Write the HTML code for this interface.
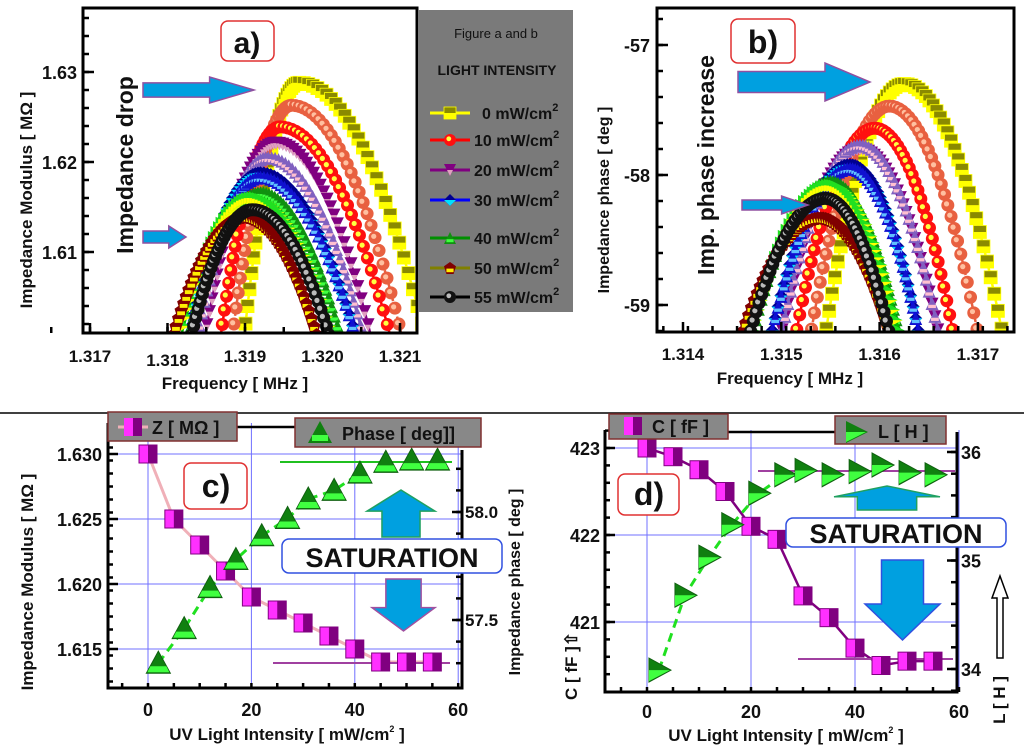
<!DOCTYPE html>
<html><head><meta charset="utf-8"><style>
body{margin:0;background:#fff}
svg{display:block;font-family:"Liberation Sans",sans-serif;font-weight:bold}
</style></head><body>
<svg id="fig" width="1024" height="746" viewBox="0 0 1024 746">
<defs>
<clipPath id="clipA"><rect x="83" y="8" width="334" height="325"/></clipPath>
<clipPath id="clipB"><rect x="657" y="8" width="357" height="324"/></clipPath>
</defs>
<rect width="1024" height="746" fill="#fff"/>
<line x1="0" y1="413" x2="1024" y2="413" stroke="#000" stroke-width="1.5"/>
<g id="gA"></g>
<g id="gB"></g>
<g id="gC"></g>
<g id="gD"></g>
</svg>
<script>
// ---- Panel a/b data ----
const seriesNames=["0","salmon","10","20","20b","30","30b","40","40b","50","55"];
const aPeakF=[1.3197,1.3196,1.31945,1.3194,1.3193,1.3192,1.3192,1.3192,1.3191,1.3190,1.3191];
const aPeakZ=[1.6288,1.6263,1.6239,1.6221,1.6205,1.6188,1.6183,1.6166,1.6160,1.6139,1.6147];
const aLeftHW=[0.0007,0.00075,0.00075,0.0009,0.0009,0.0009,0.0009,0.0009,0.0009,0.0009,0.00077];
const aRightHW=[0.0016,0.0014,0.0014,0.0012,0.0012,0.0012,0.0012,0.0010,0.0010,0.0009,0.00096];
const bPeakF=[1.31625,1.3161,1.31595,1.3158,1.3158,1.3157,1.3157,1.3155,1.3155,1.3154,1.31545];
const bPeakP=[-57.30,-57.47,-57.64,-57.80,-57.77,-57.92,-57.95,-58.05,-58.08,-58.33,-58.18];
const bLeftHW=[0.0008,0.0008,0.0008,0.0008,0.0008,0.0008,0.0008,0.0008,0.0008,0.0008,0.00077];
const bRightHW=[0.0010,0.0009,0.0008,0.0008,0.0008,0.0007,0.0007,0.0007,0.0007,0.0007,0.00065];
// ---- Panel c data ----
const cIntensity=[0,5,10,15,20,25,30,35,40,45,50,55];
const cZ=[1.630,1.625,1.623,1.621,1.619,1.618,1.617,1.616,1.615,1.614,1.614,1.614];
const cPhaseX=[2,7,12,17,22,27,31,36,41,46,51,56];
const cPhase=[57.30,57.46,57.65,57.78,57.89,57.97,58.06,58.10,58.18,58.23,58.24,58.24];
const cYTicks=["1.630","1.625","1.620","1.615"];
const cYTickVals=[1.630,1.625,1.620,1.615];
const cRTickVals=[58.0,57.5];
const cXTicks=[0,20,40,60];
// ---- Panel d data ----
const dIntensity=[0,5,10,15,20,25,30,35,40,45,50,55];
const dC=[423.0,422.9,422.75,422.5,422.1,421.95,421.3,421.05,420.7,420.5,420.55,420.55];
const dLX=[2.3,7.3,11.9,16.3,21.5,26.5,30.4,35.6,40.8,45.2,50.4,55.4];
const dL=[33.99,34.68,35.03,35.33,35.62,35.79,35.83,35.79,35.82,35.88,35.81,35.79];
const dYTickVals=[423,422,421];
const dRTickVals=[36,35,34];
const dXTicks=[0,20,40,60];
const legendLabels=["0 mW/cm","10 mW/cm","20 mW/cm","30 mW/cm","40 mW/cm","50 mW/cm","55 mW/cm"];
const aYTickVals=[1.63,1.62,1.61];
const aXTickVals=[1.317,1.318,1.319,1.320,1.321];
const bYTickVals=[-57,-58,-59];
const bXTickVals=[1.314,1.315,1.316,1.317];

const NS="http://www.w3.org/2000/svg";
function el(tag,attrs,parent,txt){const e=document.createElementNS(NS,tag);for(const k in attrs)e.setAttribute(k,attrs[k]);if(txt!==undefined)e.textContent=txt;parent.appendChild(e);return e;}
const xa=f=>90+(f-1.317)*77500, ya=z=>72+(1.63-z)*9000;
const xb=f=>683+(f-1.314)*98300, yb=p=>45+(-57-p)*130;
const xc=v=>148+v*5.17, yc=z=>454+(1.630-z)*13000, ycr=p=>512+(58-p)*216;
const xd=v=>647+v*5.2, yd=c=>448+(423-c)*87, ydr=L=>452+(36-L)*108.5;

const styles=[
 {s:"sq",f:"#8a8a00",f2:"#ffff00",line:"#ffff00"},
 {s:"ci",f:"#e86040",f2:"#ffc0a0",line:"#e86040"},
 {s:"ci",f:"#ff1010",f2:"#ffff40",line:"#ff0000"},
 {s:"td",f:"#800080",f2:"#e0a0c0",line:"#800080"},
 {s:"tu",f:"#8060c0",f2:"#ffc0d0",line:"#8060c0"},
 {s:"di",f:"#000090",f2:"#00e0ff",line:"#0000ff"},
 {s:"tu",f:"#1010d0",f2:"#60c0ff",line:"#0000ff"},
 {s:"tu",f:"#109010",f2:"#40ff40",line:"#009000"},
 {s:"tr",f:"#20e020",f2:"#ffff00",line:"#00c000"},
 {s:"pe",f:"#800000",f2:"#ffee00",line:"#808000"},
 {s:"ci",f:"#111",f2:"#bbb",line:"#000"}
];
function marker(g,st,x,y,r){
 let e;
 if(st.s==="sq"){e=el("rect",{x:x-r,y:y-r,width:2*r,height:2*r,fill:st.f,stroke:st.f2,"stroke-width":0.8},g);el("rect",{x:x-r,y:y,width:2*r,height:r,fill:st.f2},g);}
 else if(st.s==="ci"){e=el("circle",{cx:x,cy:y,r:r,fill:st.f},g);el("circle",{cx:x-r*0.2,cy:y-r*0.2,r:r*0.4,fill:st.f2},g);}
 else if(st.s==="td"){e=el("polygon",{points:`${x-r},${y-r} ${x+r},${y-r} ${x},${y+r}`,fill:st.f},g);el("polygon",{points:`${x-r/2},${y} ${x+r/2},${y} ${x},${y+r}`,fill:st.f2},g);}
 else if(st.s==="tu"){e=el("polygon",{points:`${x-r},${y+r} ${x+r},${y+r} ${x},${y-r}`,fill:st.f},g);el("rect",{x:x-r*0.6,y:y+r*0.2,width:r*1.2,height:r*0.5,fill:st.f2},g);}
 else if(st.s==="tr"){e=el("polygon",{points:`${x-r},${y-r} ${x-r},${y+r} ${x+r},${y}`,fill:st.f},g);el("polygon",{points:`${x-r},${y} ${x-r},${y+r} ${x+r},${y}`,fill:st.f2},g);}
 else if(st.s==="di"){e=el("polygon",{points:`${x},${y-r} ${x+r},${y} ${x},${y+r} ${x-r},${y}`,fill:st.f},g);el("polygon",{points:`${x-r},${y} ${x+r},${y} ${x},${y+r}`,fill:st.f2},g);}
 else {e=el("polygon",{points:`${x},${y-r} ${x+r},${y-r*0.3} ${x+r*0.6},${y+r} ${x-r*0.6},${y+r} ${x-r},${y-r*0.3}`,fill:st.f},g);el("rect",{x:x-r*0.6,y:y+r*0.1,width:r*1.2,height:r*0.6,fill:st.f2},g);}
 return e;
}
function drawPeaks(g,clip,xf,yf,peakF,peakV,lhw,rhw,bottomV,idPrefix){
 const cg=el("g",{"clip-path":`url(#${clip})`},g);
 
 
 for(let i=0;i<peakF.length;i++){
  const sg=el("g",{},cg);
  
  
  const st=styles[i];const drop=peakV[i]-bottomV;
  const f0=peakF[i];const pts=[];
  const n=60;
  for(let k=0;k<=n;k++){
   const t=-1.1+2.2*k/n;const hw=t<0?lhw[i]:rhw[i];
   const f=f0+t*hw;const v=peakV[i]-drop*t*t;pts.push([xf(f),yf(v)]);
  }
  el("polyline",{points:pts.map(p=>p.join(",")).join(" "),fill:"none",stroke:st.line,"stroke-width":2.5,"stroke-dasharray":i%2?"8,4":"none"},sg);
  for(let k=0;k<pts.length;k+=1){
   const m=marker(sg,st,pts[k][0],pts[k][1],6.5);
   
   
  }
 }
}
function txt(g,x,y,s,size,anchor,name,extra){const t=el("text",Object.assign({x:x,y:y,"font-size":size,"text-anchor":anchor||"start",fill:"#111"},extra||{}),g,s);return t;}
function rtxt(g,x,y,s,size,name){return txt(g,0,0,s,size,"middle",name,{transform:`translate(${x},${y}) rotate(-90)`});}
function box(g,x,y,w,h,stroke,name,fill){const r=el("rect",{x:x,y:y,width:w,height:h,rx:7,fill:fill||"#fff",stroke:stroke,"stroke-width":1.5},g);return r;}
function harrow(g,x1,x2,y,h,name){
 const hh=h/2,hd=Math.min(45,(x2-x1)*0.4);
 const p=el("polygon",{points:`${x1},${y-hh*0.55} ${x2-hd},${y-hh*0.55} ${x2-hd},${y-hh} ${x2},${y} ${x2-hd},${y+hh} ${x2-hd},${y+hh*0.55} ${x1},${y+hh*0.55}`,fill:"#00a0e0",stroke:"#9050a0","stroke-width":1.5},g);
 
}
function varrow(g,x1,x2,y1,y2,up,stroke,name){
 const cx=(x1+x2)/2,w=x2-x1,sw=w*0.28,hd=(y2-y1)*0.45;
 let pts;
 if(up)pts=`${cx},${y1} ${x2},${y1+hd} ${cx+sw},${y1+hd} ${cx+sw},${y2} ${cx-sw},${y2} ${cx-sw},${y1+hd} ${x1},${y1+hd}`;
 else pts=`${cx-sw},${y1} ${cx+sw},${y1} ${cx+sw},${y2-hd} ${x2},${y2-hd} ${cx},${y2} ${x1},${y2-hd} ${cx-sw},${y2-hd}`;
 const p=el("polygon",{points:pts,fill:"#00a0e0",stroke:stroke,"stroke-width":1.5},g);
 
}
function tickY(g,x,y,len,name){const l=el("line",{x1:x,y1:y,x2:x+len,y2:y,stroke:"#000","stroke-width":2.5},g);}
function tickX(g,x,y,len,name){const l=el("line",{x1:x,y1:y,x2:x,y2:y-len,stroke:"#000","stroke-width":2.5},g);}

// ===== Panel a =====
const gA=document.getElementById("gA");
drawPeaks(gA,"clipA",xa,ya,aPeakF,aPeakZ,aLeftHW,aRightHW,1.6015,"a");
{const f=el("rect",{x:83,y:8,width:334,height:325,fill:"none",stroke:"#000","stroke-width":3},gA);}
for(let v=1.602;v<1.637;v+=0.002)tickY(gA,83,ya(v),6,"y-tick-a");
aYTickVals.forEach(v=>{tickY(gA,83,ya(v),11,"y-tick-a");txt(gA,77,ya(v)+7,v.toFixed(2),18,"end","y-tick-label-a");});
aXTickVals.forEach(v=>{tickX(gA,xa(v),333,10,"x-tick-a");txt(gA,xa(v),362+(v===1.318?4:0),v.toFixed(3),17,"middle","x-tick-label-a");});
for(let v=1.3165;v<1.3213;v+=0.0005)tickX(gA,xa(v),333,6,"x-minor-tick-a");
txt(gA,235,389,"Frequency [ MHz ]",17,"middle","x-axis-title-a");
rtxt(gA,32,200,"Impedance Modulus [ MΩ ]",17,"y-axis-title-a");
rtxt(gA,133,165,"Impedance drop",23,"impedance-drop-label");
box(gA,221,21,53,40,"#e03030","panel-label-a-box");txt(gA,247,53,"a)",30,"middle","panel-label-a");
harrow(gA,143,254,90,26,"big-arrow-a");harrow(gA,143,186,237,22,"small-arrow-a");
{const lg=el("g",{},gA);
 const r=el("rect",{x:418,y:10,width:155,height:302,fill:"#7a7a7a"},lg);
 txt(lg,496,38,"Figure a and b",13,"middle","legend-title",{"font-weight":"normal"});
 txt(lg,497,75,"LIGHT INTENSITY",14,"middle","legend-subtitle");
 const rows=[113,140,170,200,238,268,297];const si=[0,2,3,5,7,9,10];
 rows.forEach((y,j)=>{const st=styles[si[j]];
  const e=el("g",{},lg);
  el("line",{x1:430,y1:y,x2:470,y2:y,stroke:st.line,"stroke-width":3},e);marker(e,st,450,y,6);
  const t=txt(e,j===0?482:474,y+6,legendLabels[j],16,"start","legend-label");
  el("tspan",{dy:-8,"font-size":11},t,"2");});
}

// ===== Panel b =====
const gB=document.getElementById("gB");
drawPeaks(gB,"clipB",xb,yb,bPeakF,bPeakP,bLeftHW,bRightHW,-59.22,"b");
{const f=el("rect",{x:657,y:8,width:357,height:324,fill:"none",stroke:"#000","stroke-width":3},gB);}
for(let v=-59.2;v<=-56.7;v+=0.2)tickY(gB,657,yb(v),6,"y-minor-tick-b");
bYTickVals.forEach(v=>{tickY(gB,657,yb(v),11,"y-tick-b");txt(gB,650,yb(v)+7,String(v),18,"end","y-tick-label-b");});
bXTickVals.forEach(v=>{tickX(gB,xb(v),332,10,"x-tick-b");txt(gB,xb(v),360,v.toFixed(3),17,"middle","x-tick-label-b");});
for(let v=1.3138;v<1.3174;v+=0.00025)tickX(gB,xb(v),332,6,"x-minor-tick-b");
txt(gB,790,384,"Frequency [ MHz ]",17,"middle","x-axis-title-b");
rtxt(gB,609,200,"Impedance phase [ deg ]",16,"y-axis-title-b");
rtxt(gB,714,165,"Imp. phase increase",23,"phase-increase-label");
box(gB,731,19,64,44,"#e03030","panel-label-b-box");txt(gB,763,53,"b)",32,"middle","panel-label-b");
harrow(gB,738,870,82,38,"big-arrow-b");harrow(gB,742,808,205,18,"small-arrow-b");

// ===== Panel c =====
const gC=document.getElementById("gC");
cXTicks.forEach(v=>{const l=el("line",{x1:xc(v),y1:423,x2:xc(v),y2:688,stroke:"#7070ff","stroke-width":1},gC);});
cYTickVals.forEach(v=>{const l=el("line",{x1:108,y1:yc(v),x2:462,y2:yc(v),stroke:"#7070ff","stroke-width":1},gC);});
{const f=el("path",{d:"M108,423 V688 H462 V450",fill:"none",stroke:"#000","stroke-width":3},gC);}
for(let v=1.6125;v<1.632;v+=0.001)tickY(gC,108,yc(v),5,"y-minor-tick-c");
for(let v=-5;v<=60;v+=5)tickX(gC,xc(v),688,5,"x-minor-tick-c");
for(let v=57.3;v<=58.3;v+=0.1)tickY(gC,462,ycr(v),-6,"right-minor-tick-c");
cYTickVals.forEach((v,i)=>{tickY(gC,108,yc(v),10,"y-tick-c");txt(gC,102,yc(v)+7,cYTicks[i],18,"end","y-tick-label-c");});
cRTickVals.forEach(v=>{tickY(gC,462,ycr(v),-10,"right-tick-c");txt(gC,465,ycr(v)+6,v.toFixed(1),17,"start","right-tick-label-c");});
cXTicks.forEach(v=>{txt(gC,xc(v),716,String(v),18,"middle","x-tick-label-c");});
{const t=txt(gC,287,740,"UV Light Intensity [ mW/cm",17,"middle","x-axis-title-c");el("tspan",{dy:-8,"font-size":9},t,"2");el("tspan",{dy:8},t," ]");}
rtxt(gC,33,582,"Impedance Modulus [ MΩ ]",17,"y-axis-title-c");
rtxt(gC,520,582,"Impedance phase [ deg ]",16,"right-axis-title-c");
{const pts=cIntensity.map((v,i)=>xc(v)+","+yc(cZ[i])).join(" ");const l=el("polyline",{points:pts,fill:"none",stroke:"#f0b0b8","stroke-width":3},gC);}
{const pts=cPhaseX.slice(0,9).map((v,i)=>xc(v)+","+ycr(cPhase[i])).join(" ");const l=el("polyline",{points:pts,fill:"none",stroke:"#20e020","stroke-width":3,"stroke-dasharray":"9,6"},gC);}
{const l=el("line",{x1:280,y1:462,x2:452,y2:462,stroke:"#20c020","stroke-width":2},gC);}
{const l=el("line",{x1:273,y1:663,x2:450,y2:663,stroke:"#a040a0","stroke-width":2},gC);}
cIntensity.forEach((v,i)=>{const x=xc(v),y=yc(cZ[i]);
 const a=el("rect",{x:x-9,y:y-9,width:18,height:18,fill:"#ff30ff",stroke:"#800080","stroke-width":1},gC);
 el("rect",{x:x,y:y-9,width:9,height:18,fill:"#800080"},gC);});
cPhaseX.forEach((v,i)=>{const x=xc(v),y=ycr(cPhase[i]);
 const a=el("polygon",{points:`${x-12},${y+10} ${x+12},${y+10} ${x},${y-12}`,fill:"#108010",stroke:"#106010"},gC);
 el("polygon",{points:`${x-8},${y+3} ${x+8},${y+3} ${x+11},${y+9} ${x-11},${y+9}`,fill:"#40ff40"},gC);});
{const l=el("line",{x1:237,y1:427,x2:297,y2:427,stroke:"#000","stroke-width":2.5},gC);}
{const g=el("g",{},gC);
 el("rect",{x:108,y:412,width:129,height:29,fill:"#888",stroke:"#803030","stroke-width":1.5},g);
 el("line",{x1:118,y1:427,x2:148,y2:427,stroke:"#f0b0b8","stroke-width":3},g);
 el("rect",{x:124,y:418,width:18,height:18,fill:"#ff30ff"},g);el("rect",{x:133,y:418,width:9,height:18,fill:"#800080"},g);
 txt(g,152,434,"Z [ MΩ ]",18,"start","legend-z-label");}
{const g=el("g",{},gC);
 el("rect",{x:295,y:418,width:186,height:29,fill:"#888",stroke:"#803030","stroke-width":1.5},g);
 el("polygon",{points:"308,443 332,443 320,421",fill:"#108010"},g);el("rect",{x:312,y:435,width:16,height:6,fill:"#40ff40"},g);
 txt(g,342,440,"Phase [ deg]]",18,"start","legend-phase-label");}
box(gC,184,463,63,46,"#e03030","panel-label-c-box");txt(gC,216,497,"c)",32,"middle","panel-label-c");
varrow(gC,367,435,490,537,true,"#20a060","up-arrow-c");
varrow(gC,372,435,579,631,false,"#a050a0","down-arrow-c");
box(gC,282,539,220,34,"#3050e0","saturation-box-c");txt(gC,392,567,"SATURATION",27,"middle","saturation-label-c");

// ===== Panel d =====
const gD=document.getElementById("gD");
dXTicks.forEach(v=>{const l=el("line",{x1:xd(v),y1:430,x2:xd(v),y2:692,stroke:"#7070ff","stroke-width":1},gD);});
dYTickVals.forEach(v=>{const l=el("line",{x1:605,y1:yd(v),x2:957,y2:yd(v),stroke:"#7070ff","stroke-width":1},gD);});
{const f=el("path",{d:"M605,430 V692 H957 V432",fill:"none",stroke:"#000","stroke-width":3},gD);}
for(let v=420.4;v<423.2;v+=0.2)tickY(gD,605,yd(v),5,"y-minor-tick-d");
for(let v=-5;v<=60;v+=5)tickX(gD,xd(v),692,5,"x-minor-tick-d");
for(let v=33.8;v<=36.2;v+=0.2)tickY(gD,957,ydr(v),-6,"right-minor-tick-d");
dYTickVals.forEach(v=>{tickY(gD,605,yd(v),10,"y-tick-d");txt(gD,600,yd(v)+7,String(v),18,"end","y-tick-label-d");});
dRTickVals.forEach(v=>{tickY(gD,957,ydr(v),-10,"right-tick-d");txt(gD,961,ydr(v)+7,String(v),18,"start","right-tick-label-d");});
dXTicks.forEach(v=>{txt(gD,xd(v),718,String(v),18,"middle","x-tick-label-d");});
{const t=txt(gD,786,741,"UV Light Intensity [ mW/cm",17,"middle","x-axis-title-d");el("tspan",{dy:-8,"font-size":9},t,"2");el("tspan",{dy:8},t," ]");}
rtxt(gD,577,666,"C [ fF ]⇧",17,"y-axis-title-d");
rtxt(gD,1005,700,"L [ H ]",17,"right-axis-title-d");
{const p=el("polygon",{points:"1000,576 1008,598 1003,598 1003,658 997,658 997,598 992,598",fill:"#fff",stroke:"#000","stroke-width":1.5},gD);}
{const pts=dIntensity.map((v,i)=>xd(v)+","+yd(dC[i])).join(" ");const l=el("polyline",{points:pts,fill:"none",stroke:"#800080","stroke-width":2.5},gD);}
{const pts=dLX.slice(0,6).map((v,i)=>xd(v)+","+ydr(dL[i])).join(" ");const l=el("polyline",{points:pts,fill:"none",stroke:"#20e020","stroke-width":3,"stroke-dasharray":"9,6"},gD);}
{const l=el("line",{x1:758,y1:471,x2:955,y2:471,stroke:"#a040a0","stroke-width":2},gD);}
{const l=el("line",{x1:798,y1:659,x2:953,y2:659,stroke:"#a040a0","stroke-width":2},gD);}
dIntensity.forEach((v,i)=>{const x=xd(v),y=yd(dC[i]);
 const a=el("rect",{x:x-9,y:y-9,width:18,height:18,fill:"#ff30ff",stroke:"#800080","stroke-width":1},gD);
 el("rect",{x:x,y:y-9,width:9,height:18,fill:"#800080"},gD);});
dLX.forEach((v,i)=>{const x=xd(v),y=ydr(dL[i]);
 const a=el("polygon",{points:`${x-10},${y-12} ${x-10},${y+12} ${x+12},${y}`,fill:"#108010",stroke:"#106010"},gD);
 el("polygon",{points:`${x-10},${y} ${x-10},${y+11} ${x+11},${y}`,fill:"#40ff40"},gD);});
{const l=el("line",{x1:728,y1:432,x2:836,y2:432,stroke:"#000","stroke-width":2.5},gD);}
{const g=el("g",{},gD);
 el("rect",{x:609,y:414,width:119,height:25,fill:"#888",stroke:"#803030","stroke-width":1.5},g);
 el("rect",{x:624,y:417,width:18,height:18,fill:"#ff30ff"},g);el("rect",{x:633,y:417,width:9,height:18,fill:"#800080"},g);
 txt(g,652,433,"C [ fF ]",18,"start","legend-c-label");}
{const g=el("g",{},gD);
 el("rect",{x:835,y:416,width:111,height:28,fill:"#888",stroke:"#803030","stroke-width":1.5},g);
 el("polygon",{points:"846,421 846,443 868,432",fill:"#108010"},g);el("polygon",{points:"846,432 846,442 866,432",fill:"#40ff40"},g);
 txt(g,878,438,"L [ H ]",18,"start","legend-l-label");}
box(gD,618,474,61,41,"#e03030","panel-label-d-box");txt(gD,649,505,"d)",32,"middle","panel-label-d");
varrow(gD,834,940,486,510,true,"#20a060","up-arrow-d");
varrow(gD,865,940,560,640,false,"#3050e0","down-arrow-d");
box(gD,786,518,220,29,"#3050e0","saturation-box-d");txt(gD,896,543,"SATURATION",27,"middle","saturation-label-d");
</script>
</body></html>
